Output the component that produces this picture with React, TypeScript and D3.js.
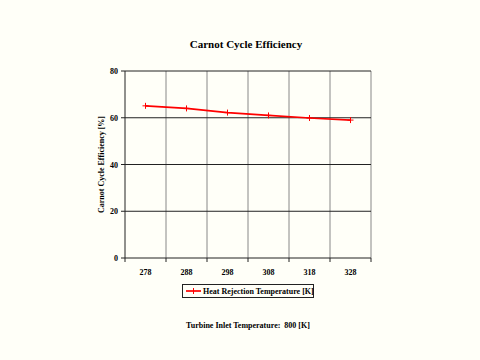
import React from "react";
import * as d3 from "d3";

const categories = ["278", "288", "298", "308", "318", "328"];
const efficiency = [65.1, 64.0, 62.2, 61.0, 59.9, 59.0];
const yTicks = [0, 20, 40, 60, 80];
const title = "Carnot Cycle Efficiency";
const yLabel = "Carnot Cycle Efficiency [%]";
const seriesName = "Heat Rejection Temperature [K]";
const footnote = "Turbine Inlet Temperature:\u00a0\u00a0800 [K]";

export default function App() {
  const W = 480, H = 360;
  const L = 125, R = 371, T = 71, B = 258;
  const x = d3.scaleBand<string>().domain(categories).range([L, R]);
  const y = d3.scaleLinear().domain([0, 80]).range([B, T]);
  const font = "'Liberation Serif', 'Times New Roman', serif";
  const line = d3
    .line<number>()
    .x((_, i) => (x(categories[i]) as number) + x.bandwidth() / 2)
    .y((d) => y(d));
  const boundaries = categories.map((c) => x(c) as number).concat([R]);
  return (
    <svg
      width={W}
      height={H}
      style={{ position: "absolute", left: 0, top: 0, background: "#fffff8" }}
      fontFamily={font}
      fontWeight="bold"
    >
      <rect x={0} y={0} width={W} height={H} fill="#fffff8" />
      <text x={246} y={48} textAnchor="middle" fontSize={11}>
        {title}
      </text>
      {boundaries.slice(1, -1).map((b, i) => (
        <line key={"v" + i} x1={b} x2={b} y1={T} y2={B} stroke="#888" strokeWidth={1} />
      ))}
      <line x1={R} x2={R} y1={T} y2={B} stroke="#888" strokeWidth={1} />
      {yTicks.slice(1).map((t) => (
        <line key={"h" + t} x1={L} x2={R} y1={y(t)} y2={y(t)} stroke="#222" strokeWidth={1} />
      ))}
      <line x1={L} x2={L} y1={T} y2={B} stroke="#222" strokeWidth={1} />
      <line x1={L} x2={R} y1={B} y2={B} stroke="#222" strokeWidth={1} />
      {yTicks.map((t) => (
        <g key={"yt" + t}>
          <line x1={L - 4} x2={L} y1={y(t)} y2={y(t)} stroke="#222" />
          <text x={L - 7} y={y(t) + 3} textAnchor="end" fontSize={8}>
            {t}
          </text>
        </g>
      ))}
      {boundaries.map((b, i) => (
        <line key={"xt" + i} x1={b} x2={b} y1={B} y2={B + 4} stroke="#222" />
      ))}
      {categories.map((c) => (
        <text
          key={"xl" + c}
          x={(x(c) as number) + x.bandwidth() / 2}
          y={B + 17}
          textAnchor="middle"
          fontSize={8}
        >
          {c}
        </text>
      ))}
      <text
        transform={`translate(104,${(T + B) / 2}) rotate(-90)`}
        textAnchor="middle"
        fontSize={8}
      >
        {yLabel}
      </text>
      <path d={line(efficiency) || ""} fill="none" stroke="#ff0000" strokeWidth={1.7} />
      {efficiency.map((v, i) => {
        const cx = (x(categories[i]) as number) + x.bandwidth() / 2;
        const cy = y(v);
        return (
          <g key={"m" + i} stroke="#ff0000" strokeWidth={1}>
            <line x1={cx - 3} x2={cx + 3} y1={cy} y2={cy} />
            <line x1={cx} x2={cx} y1={cy - 3} y2={cy + 3} />
          </g>
        );
      })}
      <rect x={182.5} y={284.5} width={131} height={13} fill="#fffff8" stroke="#222" strokeWidth={1} />
      <line x1={186} x2={201} y1={291} y2={291} stroke="#ff0000" strokeWidth={1.7} />
      <line x1={193.5} x2={193.5} y1={288} y2={294} stroke="#ff0000" strokeWidth={1} />
      <text x={203} y={294} fontSize={8}>
        {seriesName}
      </text>
      <text x={248} y={328} textAnchor="middle" fontSize={8}>
        {footnote}
      </text>
    </svg>
  );
}
